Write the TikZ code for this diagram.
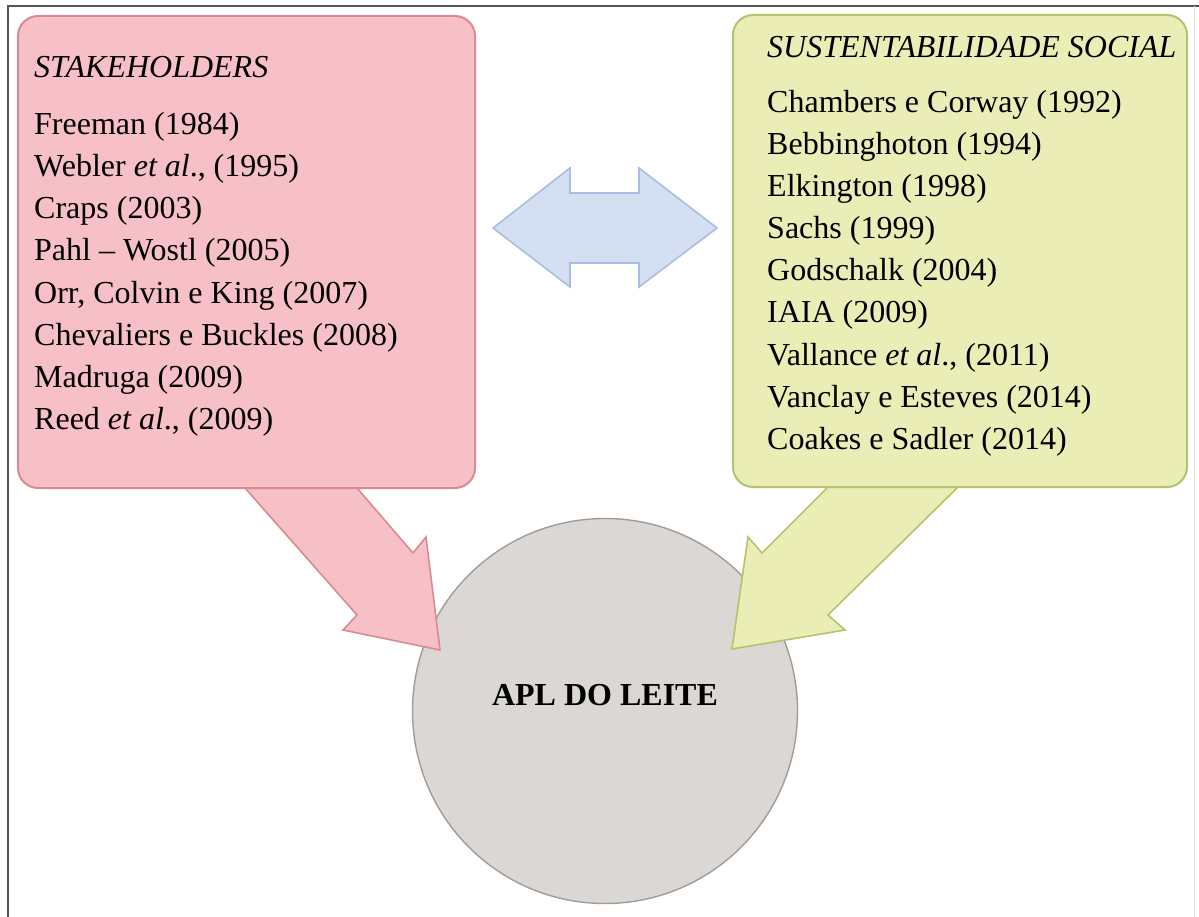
\documentclass[tikz,border=0pt]{standalone}
\usepackage{fontspec}
\setmainfont{Liberation Serif}
\begin{document}
\begin{tikzpicture}[x=1pt,y=-1pt,
  panel/.style={rounded corners=20pt, line width=2pt},
  txt/.style={anchor=base west, inner sep=0pt, font=\fontsize{32}{38}\selectfont},
  blockarrow/.style={line width=1.6pt, line join=miter},
]
\definecolor{pinkfill}{HTML}{F6C0C6}
\definecolor{pinkline}{HTML}{D88A95}
\definecolor{greenfill}{HTML}{EBEDB7}
\definecolor{greenline}{HTML}{B8C16B}
\definecolor{bluefill}{HTML}{D5DFF2}
\definecolor{blueline}{HTML}{A8BDE1}
\definecolor{circfill}{HTML}{DAD7D5}
\definecolor{circline}{HTML}{A09C9A}
\definecolor{framecol}{HTML}{555555}

\useasboundingbox (0,0) rectangle (1199,917);

% frame
\draw[framecol, line width=2pt] (8,917) -- (8,6) -- (1199,6);
\draw[black!12, line width=1pt] (1194,6) -- (1194,917);

% central circle
\node[circle, fill=circfill, draw=circline, line width=1.4pt, minimum size=385pt, inner sep=0pt] (apl) at (605,711) {};
\node[anchor=base, inner sep=0pt, font=\fontsize{32}{38}\selectfont\bfseries] (apltxt) at (605,705) {APL DO LEITE};

% block arrows from the panels into the circle
\draw[blockarrow, fill=pinkfill, draw=pinkline]
  (245,488) -- (357,615) -- (343,630) -- (440,650) -- (426,537) -- (413,553) -- (357,488);
\draw[blockarrow, fill=greenfill, draw=greenline]
  (827,488) -- (762,553) -- (748,537) -- (732,649) -- (845,630) -- (828,615) -- (957,488);

% two-headed arrow between the panels
\draw[blockarrow, fill=bluefill, draw=blueline]
  (493,228) -- (570,168) -- (570,193) -- (639,193) -- (639,168) -- (717,228)
  -- (639,287) -- (639,263) -- (570,263) -- (570,287) -- cycle;

% panels
\draw[panel, fill=pinkfill, draw=pinkline] (18,16) rectangle (475,488);
\draw[panel, fill=greenfill, draw=greenline] (733,15) rectangle (1187,487);

% left panel text
\node[txt] (st) at (34,78) {\itshape STAKEHOLDERS};
\node[txt] (s1) at (34,135) {Freeman (1984)};
\node[txt] (s2) at (34,177) {Webler \textit{et al}., (1995)};
\node[txt] (s3) at (34,219) {Craps (2003)};
\node[txt] (s4) at (34,261) {Pahl -- Wostl (2005)};
\node[txt] (s5) at (34,303) {Orr, Colvin e King (2007)};
\node[txt] (s6) at (34,345) {Chevaliers e Buckles (2008)};
\node[txt] (s7) at (34,387) {Madruga (2009)};
\node[txt] (s8) at (34,429) {Reed \textit{et al}., (2009)};

% right panel text
\node[txt] (ss) at (767,58) {\itshape SUSTENTABILIDADE SOCIAL};
\node[txt] (g1) at (767,113) {Chambers e Corway (1992)};
\node[txt] (g2) at (767,155) {Bebbinghoton (1994)};
\node[txt] (g3) at (767,197) {Elkington (1998)};
\node[txt] (g4) at (767,239) {Sachs (1999)};
\node[txt] (g5) at (767,281) {Godschalk (2004)};
\node[txt] (g6) at (767,323) {IAIA (2009)};
\node[txt] (g7) at (767,365) {Vallance \textit{et al}., (2011)};
\node[txt] (g8) at (767,407) {Vanclay e Esteves (2014)};
\node[txt] (g9) at (767,449) {Coakes e Sadler (2014)};
\end{tikzpicture}
\end{document}
